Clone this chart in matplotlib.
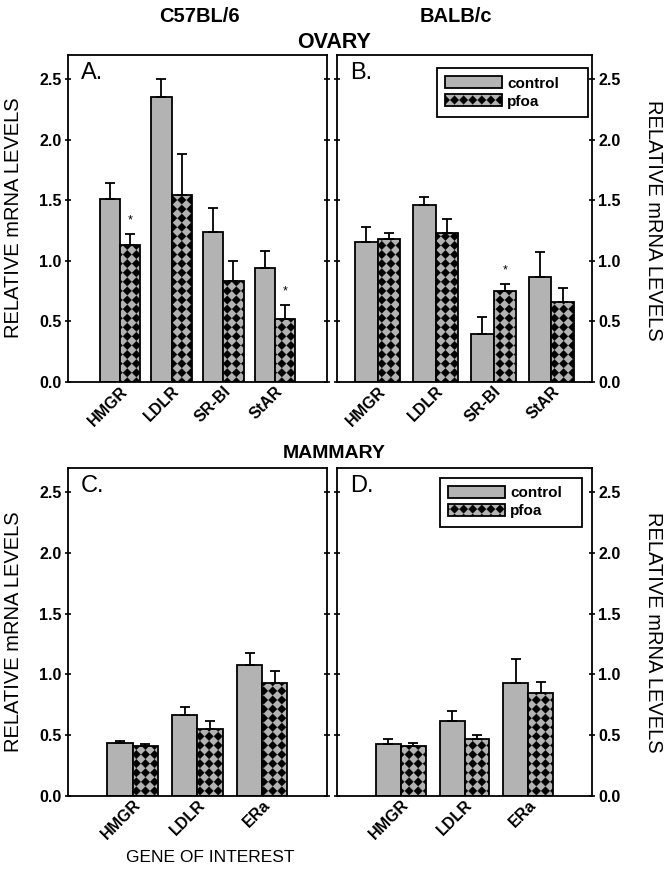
import numpy as np
import matplotlib
matplotlib.use('Agg')
import matplotlib.pyplot as plt
import matplotlib.hatch as mhatch
from matplotlib.path import Path

plt.rcParams['font.family'] = ['Liberation Sans', 'DejaVu Sans']
plt.rcParams['hatch.linewidth'] = 0.3

# genes on the x axis
genes_ovary = ['HMGR', 'LDLR', 'SR-BI', 'StAR']
genes_mammary = ['HMGR', 'LDLR', 'ERa']

# A. ovary, C57BL/6
a_control = [1.51, 2.35, 1.24, 0.94]
a_control_err = [0.13, 0.15, 0.20, 0.14]
a_pfoa = [1.13, 1.54, 0.83, 0.52]
a_pfoa_err = [0.09, 0.34, 0.17, 0.12]
a_sig = [True, False, False, True]

# B. ovary, BALB/c
b_control = [1.16, 1.46, 0.40, 0.87]
b_control_err = [0.12, 0.07, 0.14, 0.20]
b_pfoa = [1.18, 1.23, 0.75, 0.66]
b_pfoa_err = [0.05, 0.12, 0.06, 0.12]
b_sig = [False, False, True, False]

# C. mammary, C57BL/6
c_control = [0.44, 0.67, 1.08]
c_control_err = [0.015, 0.065, 0.10]
c_pfoa = [0.41, 0.55, 0.93]
c_pfoa_err = [0.02, 0.07, 0.095]
c_sig = [False, False, False]

# D. mammary, BALB/c
d_control = [0.43, 0.62, 0.93]
d_control_err = [0.035, 0.08, 0.20]
d_pfoa = [0.415, 0.465, 0.85]
d_pfoa_err = [0.025, 0.04, 0.09]
d_sig = [False, False, False]

GRAY = '#b3b3b3'


# black diamonds on the bar colour (rotated checkerboard), used for hatch='*'
class DiamondHatch(mhatch.HatchPatternBase):
    def __init__(self, hatch, density):
        self.n = hatch.count('*') * 11
        self.num_vertices = 5 * (self.n + 1) ** 2 if self.n else 0

    def set_vertices_and_codes(self, vertices, codes):
        n = self.n
        h = 0.46 / n
        diamond = np.array([[0, -h], [h, 0], [0, h], [-h, 0], [0, -h]])
        code = [Path.MOVETO, Path.LINETO, Path.LINETO, Path.LINETO, Path.CLOSEPOLY]
        centers = [(i / n, j / n) for i in range(n + 1) for j in range(n + 1)]
        vertices[:] = np.concatenate([diamond + c for c in centers])
        codes[:] = np.tile(code, len(centers))


mhatch._hatch_types = [t for t in mhatch._hatch_types if t is not mhatch.Stars] + [DiamondHatch]


def panel(ax, genes, control, control_err, pfoa, pfoa_err, sig, letter, xlim, right=False):
    x = np.arange(1, len(genes) + 1)
    w = 0.39
    ax.bar(x - w / 2, control, w, color=GRAY, edgecolor='black', linewidth=1.3, label='control', zorder=2)
    ax.bar(x + w / 2, pfoa, w, color=GRAY, edgecolor='black', hatch='*', linewidth=1.3, label='pfoa', zorder=2)
    zeros = np.zeros(len(x))
    ax.errorbar(x - w / 2, control, yerr=[zeros, control_err], fmt='none', ecolor='black',
                elinewidth=1.3, capsize=3.6, capthick=1.3, zorder=3)
    ax.errorbar(x + w / 2, pfoa, yerr=[zeros, pfoa_err], fmt='none', ecolor='black',
                elinewidth=1.3, capsize=3.6, capthick=1.3, zorder=3)
    for xi, s, v, e in zip(x + w / 2, sig, pfoa, pfoa_err):
        if s:
            ax.text(xi, v + e + 0.11, '*', ha='center', va='center', fontsize=9)

    ax.set_xlim(*xlim)
    ax.set_ylim(0, 2.7)
    yt = [0, 0.5, 1.0, 1.5, 2.0, 2.5]
    ax.set_yticks(yt, [f'{t:.1f}' for t in yt], fontweight='bold', fontsize=11.5)
    ax.set_xticks(x, genes, rotation=45, ha='right', va='top', rotation_mode='anchor',
                  fontweight='bold', fontsize=11.5)
    ax.tick_params(axis='y', direction='inout', length=5, width=1.2, left=True, right=True,
                   labelleft=not right, labelright=right, pad=2)
    ax.tick_params(axis='x', length=0, pad=1)
    for sp in ax.spines.values():
        sp.set_linewidth(1.3)
    ax.text(0.05, 0.978, letter, transform=ax.transAxes, ha='left', va='top', fontsize=17)


fig = plt.figure(figsize=(6.66, 8.77), dpi=100)
ax_a = fig.add_axes([0.102, 0.5644, 0.389, 0.3729])
ax_b = fig.add_axes([0.506, 0.5644, 0.383, 0.3729])
ax_c = fig.add_axes([0.102, 0.0924, 0.389, 0.374])
ax_d = fig.add_axes([0.506, 0.0924, 0.383, 0.374])

panel(ax_a, genes_ovary, a_control, a_control_err, a_pfoa, a_pfoa_err, a_sig, 'A.', (0, 5))
panel(ax_b, genes_ovary, b_control, b_control_err, b_pfoa, b_pfoa_err, b_sig, 'B.', (0.3, 4.7), right=True)
panel(ax_c, genes_mammary, c_control, c_control_err, c_pfoa, c_pfoa_err, c_sig, 'C.', (0, 4))
panel(ax_d, genes_mammary, d_control, d_control_err, d_pfoa, d_pfoa_err, d_sig, 'D.', (0, 4), right=True)

# legend boxes are wider than their content in the original
for ax, box in [(ax_b, (0.392, 0.801, 0.592, 0.159)), (ax_d, (0.404, 0.805, 0.557, 0.165))]:
    leg = ax.legend(loc='upper left', bbox_to_anchor=box, mode='expand', borderaxespad=0,
                    fancybox=False, edgecolor='black', framealpha=1, handlelength=3.7,
                    handleheight=0.8, handletextpad=0.35, labelspacing=0.25, borderpad=0.55,
                    prop={'weight': 'bold', 'size': 11})
    leg.get_frame().set_linewidth(1.3)

ylab = 'RELATIVE mRNA LEVELS'
fig.text(14 / 666, 1 - 218 / 877, ylab, rotation=90, ha='center', va='center', fontsize=14.5)
fig.text(14 / 666, 1 - 632 / 877, ylab, rotation=90, ha='center', va='center', fontsize=14.5)
fig.text(653 / 666, 1 - 220 / 877, ylab, rotation=-90, ha='center', va='center', fontsize=14.5)
fig.text(653 / 666, 1 - 632 / 877, ylab, rotation=-90, ha='center', va='center', fontsize=14.5)

fig.text(199 / 666, 1 - 16 / 877, 'C57BL/6', ha='center', va='center', fontsize=14.5, fontweight='bold')
fig.text(456 / 666, 1 - 16 / 877, 'BALB/c', ha='center', va='center', fontsize=14.5, fontweight='bold')
fig.text(334 / 666, 1 - 42 / 877, 'OVARY', ha='center', va='center', fontsize=15.5, fontweight='bold')
fig.text(334 / 666, 1 - 453 / 877, 'MAMMARY', ha='center', va='center', fontsize=14, fontweight='bold')
fig.text(210 / 666, 1 - 858 / 877, 'GENE OF INTEREST', ha='center', va='center', fontsize=12.5)

fig.savefig('out.png', dpi=100)
